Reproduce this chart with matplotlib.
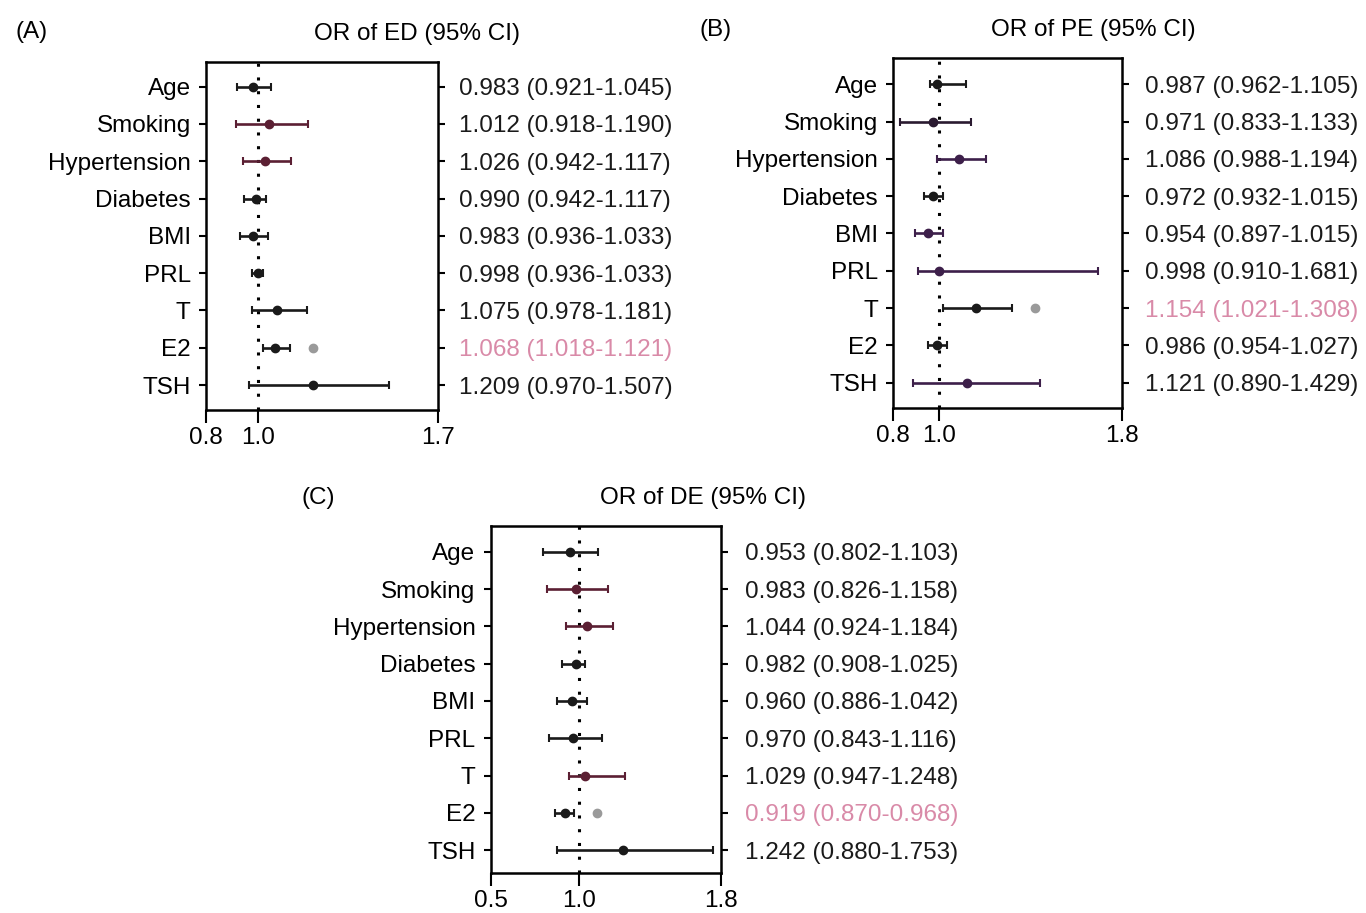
import numpy as np
import matplotlib.pyplot as plt

plt.rcParams['font.family'] = ['Liberation Sans', 'DejaVu Sans']

variables = ['Age', 'Smoking', 'Hypertension', 'Diabetes', 'BMI', 'PRL', 'T', 'E2', 'TSH']

# panel A - ED
ed_or = [0.983, 1.045, 1.029, 0.993, 0.983, 1.003, 1.076, 1.067, 1.213]
ed_lo = [0.919, 0.916, 0.942, 0.948, 0.932, 0.977, 0.977, 1.020, 0.968]
ed_hi = [1.051, 1.196, 1.128, 1.032, 1.039, 1.022, 1.190, 1.125, 1.510]
ed_text = ['0.983 (0.921-1.045)', '1.012 (0.918-1.190)', '1.026 (0.942-1.117)',
           '0.990 (0.942-1.117)', '0.983 (0.936-1.033)', '0.998 (0.936-1.033)',
           '1.075 (0.978-1.181)', '1.068 (1.018-1.121)', '1.209 (0.970-1.507)']
ed_sig = [False, False, False, False, False, False, False, True, False]

# panel B - PE
pe_or = [0.992, 0.972, 1.088, 0.975, 0.953, 1.001, 1.161, 0.990, 1.123]
pe_lo = [0.960, 0.829, 0.992, 0.934, 0.895, 0.909, 1.016, 0.953, 0.885]
pe_hi = [1.117, 1.138, 1.205, 1.018, 1.018, 1.695, 1.317, 1.033, 1.441]
pe_text = ['0.987 (0.962-1.105)', '0.971 (0.833-1.133)', '1.086 (0.988-1.194)',
           '0.972 (0.932-1.015)', '0.954 (0.897-1.015)', '0.998 (0.910-1.681)',
           '1.154 (1.021-1.308)', '0.986 (0.954-1.027)', '1.121 (0.890-1.429)']
pe_sig = [False, False, False, False, False, False, True, False, False]

# panel C - DE
de_or = [0.948, 0.982, 1.043, 0.982, 0.958, 0.967, 1.033, 0.920, 1.246]
de_lo = [0.794, 0.820, 0.926, 0.901, 0.876, 0.831, 0.944, 0.863, 0.876]
de_hi = [1.108, 1.165, 1.193, 1.033, 1.046, 1.127, 1.259, 0.971, 1.755]
de_text = ['0.953 (0.802-1.103)', '0.983 (0.826-1.158)', '1.044 (0.924-1.184)',
           '0.982 (0.908-1.025)', '0.960 (0.886-1.042)', '0.970 (0.843-1.116)',
           '1.029 (0.947-1.248)', '0.919 (0.870-0.968)', '1.242 (0.880-1.753)']
de_sig = [False, False, False, False, False, False, False, True, False]

FS = 17.5
red = '#5b1f33'
purp = '#3d1f4a'
blk = '#1a1a1a'
sig_col = '#d98aa8'


def forest(ax, est, lo, hi, labels, sig, colors, xlim, xticks, ylim, title, title_x, text_x):
    est = np.array(est)
    lo = np.array(lo)
    hi = np.array(hi)
    y = np.arange(len(variables))
    ax.axvline(1.0, color='black', lw=2.2, linestyle=(0, (1, 3.5)), zorder=1)
    for i in range(len(y)):
        ax.errorbar(est[i], y[i], xerr=[[est[i] - lo[i]], [hi[i] - est[i]]], fmt='o',
                    color=colors[i], ms=6, lw=1.9, capsize=3, capthick=1.5, zorder=3)
        if sig[i]:
            ax.plot(hi[i] + 0.1 * (xlim[1] - xlim[0]), y[i], 'o', color='#9a9a9a', ms=6, zorder=3)
    ax.set_xlim(xlim)
    ax.set_ylim(ylim)
    ax.set_yticks(y)
    ax.set_yticklabels(variables, fontsize=FS)
    ax.set_xticks(xticks)
    ax.set_xticklabels(['%.1f' % t for t in xticks], fontsize=FS)
    ax.tick_params(axis='y', which='both', left=True, right=True, length=5, width=1.5, pad=6)
    ax.tick_params(axis='x', length=9, width=1.5, pad=3)
    for s in ax.spines.values():
        s.set_linewidth(1.8)
    trans = ax.get_yaxis_transform()
    for i in range(len(y)):
        ax.text(text_x, y[i], labels[i], transform=trans, ha='left', va='center_baseline',
                fontsize=FS, color=sig_col if sig[i] else blk)
    # title sits a little above the axes
    ax.text(title_x, ylim[1] - 0.45, title, transform=trans, ha='center', va='bottom', fontsize=FS)


fig = plt.figure(figsize=(13.66, 9.13), dpi=100)

ax_a = fig.add_axes([0.1508, 0.5509, 0.1701, 0.3815])
ax_b = fig.add_axes([0.6540, 0.5528, 0.1676, 0.3834])
ax_c = fig.add_axes([0.3592, 0.0435, 0.1684, 0.3804])

col_a = [blk, red, red, blk, blk, blk, blk, blk, blk]
col_b = [blk, '#2a1a30', purp, blk, purp, purp, blk, blk, purp]
col_c = [blk, red, red, blk, blk, blk, red, blk, blk]

forest(ax_a, ed_or, ed_lo, ed_hi, ed_text, ed_sig, col_a, (0.8, 1.7), [0.8, 1.0, 1.7],
       (8.67, -0.67), 'OR of ED (95% CI)', 0.908, 1.09)
forest(ax_b, pe_or, pe_lo, pe_hi, pe_text, pe_sig, col_b, (0.8, 1.8), [0.8, 1.0, 1.8],
       (8.69, -0.70), 'OR of PE (95% CI)', 0.872, 1.10)
forest(ax_c, de_or, de_lo, de_hi, de_text, de_sig, col_c, (0.5, 1.8), [0.5, 1.0, 1.8],
       (8.62, -0.69), 'OR of DE (95% CI)', 0.923, 1.105)

fig.text(0.011, 1 - 32 / 913, '(A)', fontsize=FS, va='center', ha='left')
fig.text(0.512, 1 - 30 / 913, '(B)', fontsize=FS, va='center', ha='left')
fig.text(0.221, 1 - 498 / 913, '(C)', fontsize=FS, va='center', ha='left')

fig.savefig('out.png', dpi=100)
